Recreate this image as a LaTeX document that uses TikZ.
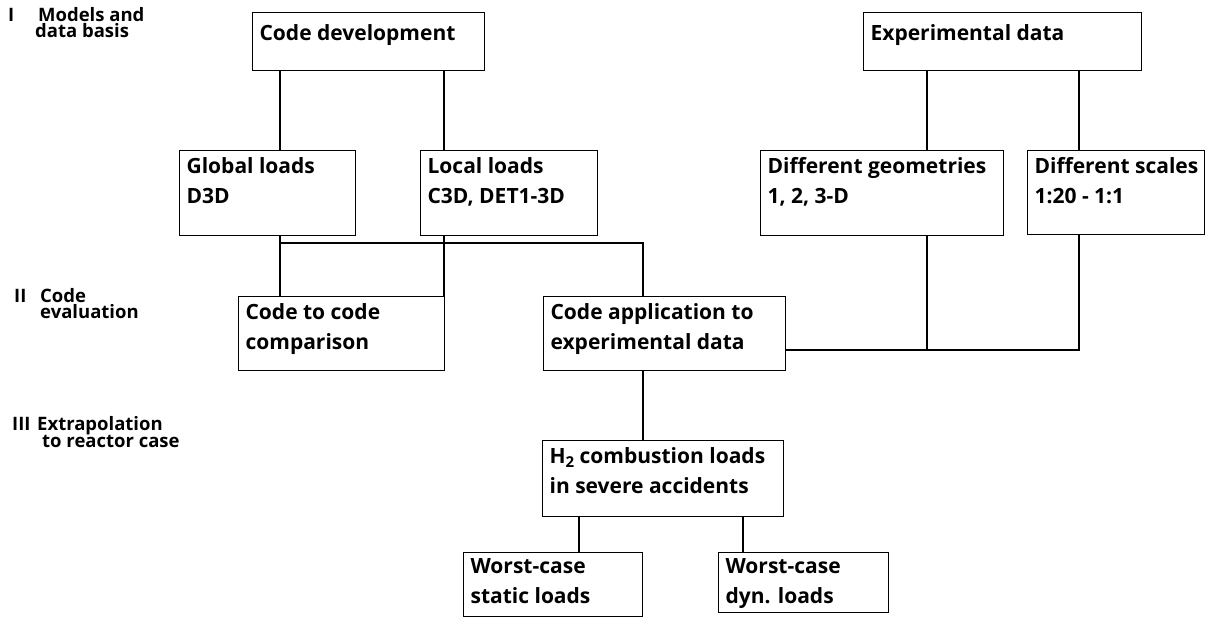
\documentclass[tikz,border=0pt]{standalone}
\usepackage{fontspec}
\setmainfont{Open Sans}
\begin{document}
% box text: width, height, top gap, lines
\newcommand\boxtxt[4]{\parbox[c][#2pt][t]{#1pt}{\raggedright\leftskip=7pt\vspace*{#3pt}#4}}
\newcommand\subtwo{\raisebox{-4pt}{\fontsize{15}{15}\selectfont 2}}
\begin{tikzpicture}[x=1pt,y=-1pt,
  box/.style={draw, line width=1.2pt, inner sep=0pt, anchor=north west,
    font=\bfseries\fontsize{21}{30}\selectfont},
  lvl/.style={anchor=north west, inner sep=0pt, align=left,
    font=\bfseries\fontsize{18.5}{16}\selectfont},
  link/.style={line width=1.2pt}]
\useasboundingbox (0,0) rectangle (1206,617);

% level labels
\node[lvl] (n1) at (8,8) {I};
\node[lvl] (t1) at (35,7) {\hspace*{3pt}Models and\\data basis};
\node[lvl] (n2) at (14,289) {II};
\node[lvl] (t2) at (40,288) {Code\\evaluation};
\node[lvl] (n3) at (12,417) {III};
\node[lvl] (t3) at (37,416) {Extrapolation\\\hspace*{5pt}to reactor case};

% level I
\node[box] (cd) at (252,12) {\boxtxt{232}{58}{12}{Code development}};
\node[box] (ed) at (863,12) {\boxtxt{278}{58}{12}{Experimental data}};
\node[box] (gl) at (179,150) {\boxtxt{176}{85}{7}{Global loads\\D3D}};
\node[box] (ll) at (420,150) {\boxtxt{177}{85}{7}{Local loads\\C3D, DET1-3D}};
\node[box] (dg) at (760,150) {\boxtxt{243}{85}{7}{Different geometries\\1, 2, 3-D}};
\node[box] (ds) at (1027,150) {\boxtxt{177}{84}{7}{Different scales\\1:20 - 1:1}};

% level II
\node[box] (cc) at (238,296) {\boxtxt{206}{74}{7}{Code to code\\comparison}};
\node[box] (ca) at (543,296) {\boxtxt{242}{74}{7}{Code application to\\experimental data}};

% level III
\node[box] (h2) at (542,440) {\boxtxt{241}{76}{7}{H\subtwo{} combustion loads\\in severe accidents}};
\node[box] (ws) at (463,552) {\boxtxt{179}{64}{6}{Worst-case\\static loads}};
\node[box] (wd) at (718,552) {\boxtxt{170}{60}{6}{Worst-case\\dyn. loads}};

% connector columns
\coordinate (xa) at (280,0);
\coordinate (xb) at (444,0);
\coordinate (xc) at (927,0);
\coordinate (xd) at (1079,0);
\coordinate (xe) at (643,0);
\coordinate (xf) at (579,0);
\coordinate (xg) at (743,0);
\coordinate (jgl) at (280,243);
\coordinate (jds) at (1079,350);

\draw[link] (xa |- cd.south) -- (xa |- gl.north);
\draw[link] (xb |- cd.south) -- (xb |- ll.north);
\draw[link] (xc |- ed.south) -- (xc |- dg.north);
\draw[link] (xd |- ed.south) -- (xd |- ds.north);

\draw[link] (xa |- gl.south) -- (xa |- cc.north);
\draw[link] (xb |- ll.south) -- (xb |- cc.north);
\draw[link] (jgl) -- (xe |- jgl) -- (xe |- ca.north);

\draw[link] (xc |- dg.south) -- (xc |- jds);
\draw[link] (xd |- ds.south) -- (jds) -- (ca.east |- jds);

\draw[link] (xe |- ca.south) -- (xe |- h2.north);
\draw[link] (xf |- h2.south) -- (xf |- ws.north);
\draw[link] (xg |- h2.south) -- (xg |- wd.north);
\end{tikzpicture}
\end{document}
